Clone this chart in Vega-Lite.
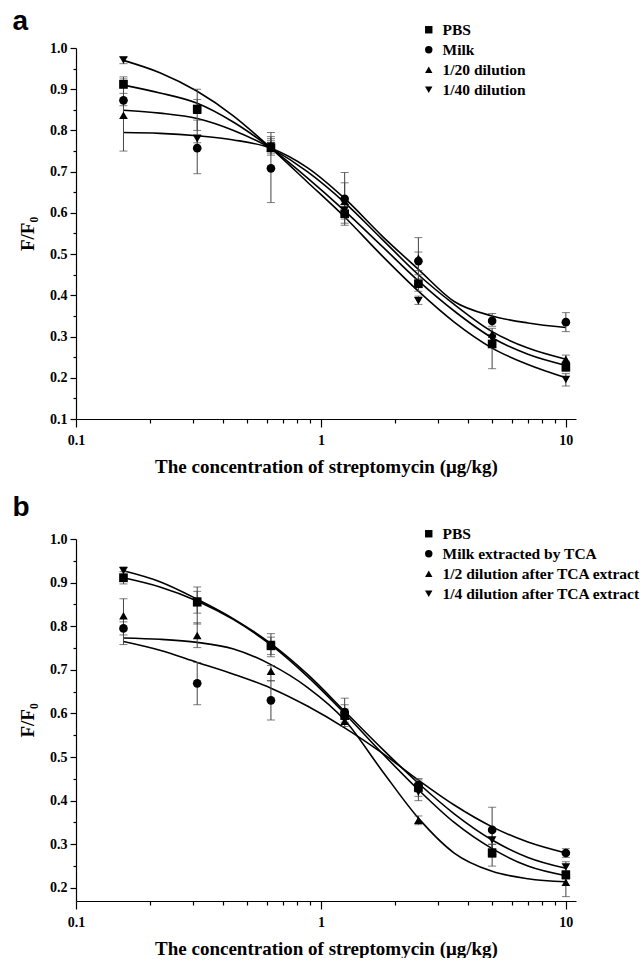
{
  "$schema": "https://vega.github.io/schema/vega-lite/v6.json",
  "padding": {"left": 12, "top": 8, "right": 2, "bottom": 0},
  "spacing": 18,
  "config": {
    "view": {"stroke": null},
    "font": "Liberation Serif",
    "axis": {"domainColor": "black", "tickColor": "black", "labelColor": "black", "titleColor": "black", "labelFont": "Liberation Serif", "labelFontWeight": "bold", "labelFontSize": 14, "titleFont": "Liberation Serif", "titleFontWeight": "bold", "titleFontSize": 19, "grid": false, "domainWidth": 1.2, "tickWidth": 1.2, "labelFlush": false, "labelOverlap": false},
    "legend": {"orient": "none", "title": null, "labelFont": "Liberation Serif", "labelFontWeight": "bold", "labelFontSize": 15.5, "labelColor": "black", "labelLimit": 400, "symbolFillColor": "black", "symbolStrokeColor": "black", "symbolSize": 55, "rowPadding": 3, "labelOffset": 6, "padding": 0}
  },
  "datasets": {
    "a_pts": [
      {"series": "PBS", "x": 0.15625, "y": 0.912, "lo": 0.902, "hi": 0.925},
      {"series": "PBS", "x": 0.3125, "y": 0.852, "lo": 0.843, "hi": 0.875},
      {"series": "PBS", "x": 0.625, "y": 0.758, "lo": 0.745, "hi": 0.775},
      {"series": "PBS", "x": 1.25, "y": 0.598, "lo": 0.575, "hi": 0.62},
      {"series": "PBS", "x": 2.5, "y": 0.428, "lo": 0.41, "hi": 0.45},
      {"series": "PBS", "x": 5, "y": 0.282, "lo": 0.222, "hi": 0.3},
      {"series": "PBS", "x": 10, "y": 0.226, "lo": 0.215, "hi": 0.24},
      {"series": "Milk", "x": 0.15625, "y": 0.873, "lo": 0.86, "hi": 0.89},
      {"series": "Milk", "x": 0.3125, "y": 0.757, "lo": 0.695, "hi": 0.825},
      {"series": "Milk", "x": 0.625, "y": 0.708, "lo": 0.625, "hi": 0.795},
      {"series": "Milk", "x": 1.25, "y": 0.634, "lo": 0.57, "hi": 0.698},
      {"series": "Milk", "x": 2.5, "y": 0.483, "lo": 0.46, "hi": 0.505},
      {"series": "Milk", "x": 5, "y": 0.338, "lo": 0.325, "hi": 0.356},
      {"series": "Milk", "x": 10, "y": 0.335, "lo": 0.312, "hi": 0.358},
      {"series": "1/20 dilution", "x": 0.15625, "y": 0.837, "lo": 0.75, "hi": 0.93},
      {"series": "1/20 dilution", "x": 0.3125, "y": 0.849, "lo": 0.8, "hi": 0.9},
      {"series": "1/20 dilution", "x": 0.625, "y": 0.757, "lo": 0.74, "hi": 0.785},
      {"series": "1/20 dilution", "x": 1.25, "y": 0.628, "lo": 0.585, "hi": 0.673},
      {"series": "1/20 dilution", "x": 2.5, "y": 0.49, "lo": 0.44, "hi": 0.54},
      {"series": "1/20 dilution", "x": 5, "y": 0.306, "lo": 0.29, "hi": 0.32},
      {"series": "1/20 dilution", "x": 10, "y": 0.245, "lo": 0.235, "hi": 0.255},
      {"series": "1/40 dilution", "x": 0.15625, "y": 0.971, "lo": 0.962, "hi": 0.978},
      {"series": "1/40 dilution", "x": 0.3125, "y": 0.78, "lo": 0.77, "hi": 0.79},
      {"series": "1/40 dilution", "x": 0.625, "y": 0.762, "lo": 0.75, "hi": 0.78},
      {"series": "1/40 dilution", "x": 1.25, "y": 0.607, "lo": 0.595, "hi": 0.62},
      {"series": "1/40 dilution", "x": 2.5, "y": 0.387, "lo": 0.378, "hi": 0.398},
      {"series": "1/40 dilution", "x": 5, "y": 0.295, "lo": 0.285, "hi": 0.305},
      {"series": "1/40 dilution", "x": 10, "y": 0.196, "lo": 0.18, "hi": 0.21}
    ],
    "a_curve": [
      {"series": "1/40 dilution", "x": 0.15625, "y": 0.97}, {"series": "1/40 dilution", "x": 0.22, "y": 0.94}, {"series": "1/40 dilution", "x": 0.3125, "y": 0.895}, {"series": "1/40 dilution", "x": 0.44, "y": 0.835}, {"series": "1/40 dilution", "x": 0.625, "y": 0.757}, {"series": "1/40 dilution", "x": 0.88, "y": 0.675}, {"series": "1/40 dilution", "x": 1.25, "y": 0.59}, {"series": "1/40 dilution", "x": 1.77, "y": 0.497}, {"series": "1/40 dilution", "x": 2.5, "y": 0.41}, {"series": "1/40 dilution", "x": 3.5, "y": 0.335}, {"series": "1/40 dilution", "x": 5, "y": 0.272}, {"series": "1/40 dilution", "x": 7, "y": 0.232}, {"series": "1/40 dilution", "x": 10, "y": 0.2},
      {"series": "PBS", "x": 0.15625, "y": 0.91}, {"series": "PBS", "x": 0.22, "y": 0.891}, {"series": "PBS", "x": 0.3125, "y": 0.866}, {"series": "PBS", "x": 0.44, "y": 0.82}, {"series": "PBS", "x": 0.625, "y": 0.757}, {"series": "PBS", "x": 0.88, "y": 0.685}, {"series": "PBS", "x": 1.25, "y": 0.605}, {"series": "PBS", "x": 1.77, "y": 0.52}, {"series": "PBS", "x": 2.5, "y": 0.435}, {"series": "PBS", "x": 3.5, "y": 0.362}, {"series": "PBS", "x": 5, "y": 0.297}, {"series": "PBS", "x": 7, "y": 0.257}, {"series": "PBS", "x": 10, "y": 0.23},
      {"series": "1/20 dilution", "x": 0.15625, "y": 0.849}, {"series": "1/20 dilution", "x": 0.22, "y": 0.842}, {"series": "1/20 dilution", "x": 0.3125, "y": 0.829}, {"series": "1/20 dilution", "x": 0.44, "y": 0.8}, {"series": "1/20 dilution", "x": 0.625, "y": 0.757}, {"series": "1/20 dilution", "x": 0.88, "y": 0.7}, {"series": "1/20 dilution", "x": 1.25, "y": 0.625}, {"series": "1/20 dilution", "x": 1.77, "y": 0.537}, {"series": "1/20 dilution", "x": 2.5, "y": 0.45}, {"series": "1/20 dilution", "x": 3.5, "y": 0.378}, {"series": "1/20 dilution", "x": 5, "y": 0.312}, {"series": "1/20 dilution", "x": 7, "y": 0.272}, {"series": "1/20 dilution", "x": 10, "y": 0.245},
      {"series": "Milk", "x": 0.15625, "y": 0.795}, {"series": "Milk", "x": 0.22, "y": 0.793}, {"series": "Milk", "x": 0.3125, "y": 0.787}, {"series": "Milk", "x": 0.44, "y": 0.777}, {"series": "Milk", "x": 0.625, "y": 0.757}, {"series": "Milk", "x": 0.88, "y": 0.71}, {"series": "Milk", "x": 1.25, "y": 0.635}, {"series": "Milk", "x": 1.77, "y": 0.545}, {"series": "Milk", "x": 2.5, "y": 0.463}, {"series": "Milk", "x": 3.5, "y": 0.385}, {"series": "Milk", "x": 5, "y": 0.35}, {"series": "Milk", "x": 7, "y": 0.333}, {"series": "Milk", "x": 10, "y": 0.322}
    ],
    "b_pts": [
      {"series": "PBS", "x": 0.15625, "y": 0.911, "lo": 0.897, "hi": 0.925},
      {"series": "PBS", "x": 0.3125, "y": 0.855, "lo": 0.83, "hi": 0.88},
      {"series": "PBS", "x": 0.625, "y": 0.755, "lo": 0.735, "hi": 0.775},
      {"series": "PBS", "x": 1.25, "y": 0.595, "lo": 0.58, "hi": 0.61},
      {"series": "PBS", "x": 2.5, "y": 0.43, "lo": 0.41, "hi": 0.45},
      {"series": "PBS", "x": 5, "y": 0.28, "lo": 0.25, "hi": 0.3},
      {"series": "PBS", "x": 10, "y": 0.23, "lo": 0.22, "hi": 0.24},
      {"series": "Milk extracted by TCA", "x": 0.15625, "y": 0.795, "lo": 0.78, "hi": 0.81},
      {"series": "Milk extracted by TCA", "x": 0.3125, "y": 0.669, "lo": 0.62, "hi": 0.717},
      {"series": "Milk extracted by TCA", "x": 0.625, "y": 0.63, "lo": 0.585, "hi": 0.675},
      {"series": "Milk extracted by TCA", "x": 1.25, "y": 0.603, "lo": 0.59, "hi": 0.62},
      {"series": "Milk extracted by TCA", "x": 2.5, "y": 0.435, "lo": 0.42, "hi": 0.45},
      {"series": "Milk extracted by TCA", "x": 5, "y": 0.333, "lo": 0.29, "hi": 0.385},
      {"series": "Milk extracted by TCA", "x": 10, "y": 0.28, "lo": 0.27, "hi": 0.29},
      {"series": "1/2 dilution after TCA extract", "x": 0.15625, "y": 0.824, "lo": 0.758, "hi": 0.863},
      {"series": "1/2 dilution after TCA extract", "x": 0.3125, "y": 0.779, "lo": 0.751, "hi": 0.808},
      {"series": "1/2 dilution after TCA extract", "x": 0.625, "y": 0.697, "lo": 0.675, "hi": 0.71},
      {"series": "1/2 dilution after TCA extract", "x": 1.25, "y": 0.582, "lo": 0.57, "hi": 0.595},
      {"series": "1/2 dilution after TCA extract", "x": 2.5, "y": 0.355, "lo": 0.345, "hi": 0.365},
      {"series": "1/2 dilution after TCA extract", "x": 5, "y": 0.285, "lo": 0.27, "hi": 0.3},
      {"series": "1/2 dilution after TCA extract", "x": 10, "y": 0.213, "lo": 0.18, "hi": 0.235},
      {"series": "1/4 dilution after TCA extract", "x": 0.15625, "y": 0.927, "lo": 0.92, "hi": 0.936},
      {"series": "1/4 dilution after TCA extract", "x": 0.3125, "y": 0.858, "lo": 0.805, "hi": 0.89},
      {"series": "1/4 dilution after TCA extract", "x": 0.625, "y": 0.758, "lo": 0.73, "hi": 0.783},
      {"series": "1/4 dilution after TCA extract", "x": 1.25, "y": 0.585, "lo": 0.575, "hi": 0.635},
      {"series": "1/4 dilution after TCA extract", "x": 2.5, "y": 0.42, "lo": 0.4, "hi": 0.445},
      {"series": "1/4 dilution after TCA extract", "x": 5, "y": 0.31, "lo": 0.29, "hi": 0.33},
      {"series": "1/4 dilution after TCA extract", "x": 10, "y": 0.248, "lo": 0.235, "hi": 0.26}
    ],
    "b_curve": [
      {"series": "1/4 dilution after TCA extract", "x": 0.15625, "y": 0.927}, {"series": "1/4 dilution after TCA extract", "x": 0.22, "y": 0.902}, {"series": "1/4 dilution after TCA extract", "x": 0.3125, "y": 0.862}, {"series": "1/4 dilution after TCA extract", "x": 0.44, "y": 0.817}, {"series": "1/4 dilution after TCA extract", "x": 0.625, "y": 0.76}, {"series": "1/4 dilution after TCA extract", "x": 0.88, "y": 0.69}, {"series": "1/4 dilution after TCA extract", "x": 1.25, "y": 0.605}, {"series": "1/4 dilution after TCA extract", "x": 1.77, "y": 0.52}, {"series": "1/4 dilution after TCA extract", "x": 2.5, "y": 0.44}, {"series": "1/4 dilution after TCA extract", "x": 3.5, "y": 0.37}, {"series": "1/4 dilution after TCA extract", "x": 5, "y": 0.31}, {"series": "1/4 dilution after TCA extract", "x": 7, "y": 0.27}, {"series": "1/4 dilution after TCA extract", "x": 10, "y": 0.245},
      {"series": "PBS", "x": 0.15625, "y": 0.911}, {"series": "PBS", "x": 0.22, "y": 0.89}, {"series": "PBS", "x": 0.3125, "y": 0.858}, {"series": "PBS", "x": 0.44, "y": 0.815}, {"series": "PBS", "x": 0.625, "y": 0.757}, {"series": "PBS", "x": 0.88, "y": 0.685}, {"series": "PBS", "x": 1.25, "y": 0.6}, {"series": "PBS", "x": 1.77, "y": 0.51}, {"series": "PBS", "x": 2.5, "y": 0.425}, {"series": "PBS", "x": 3.5, "y": 0.35}, {"series": "PBS", "x": 5, "y": 0.29}, {"series": "PBS", "x": 7, "y": 0.25}, {"series": "PBS", "x": 10, "y": 0.228},
      {"series": "1/2 dilution after TCA extract", "x": 0.15625, "y": 0.773}, {"series": "1/2 dilution after TCA extract", "x": 0.22, "y": 0.77}, {"series": "1/2 dilution after TCA extract", "x": 0.3125, "y": 0.763}, {"series": "1/2 dilution after TCA extract", "x": 0.44, "y": 0.748}, {"series": "1/2 dilution after TCA extract", "x": 0.625, "y": 0.712}, {"series": "1/2 dilution after TCA extract", "x": 0.88, "y": 0.66}, {"series": "1/2 dilution after TCA extract", "x": 1.25, "y": 0.585}, {"series": "1/2 dilution after TCA extract", "x": 1.77, "y": 0.47}, {"series": "1/2 dilution after TCA extract", "x": 2.5, "y": 0.36}, {"series": "1/2 dilution after TCA extract", "x": 3.5, "y": 0.28}, {"series": "1/2 dilution after TCA extract", "x": 5, "y": 0.238}, {"series": "1/2 dilution after TCA extract", "x": 7, "y": 0.221}, {"series": "1/2 dilution after TCA extract", "x": 10, "y": 0.214},
      {"series": "Milk extracted by TCA", "x": 0.15625, "y": 0.765}, {"series": "Milk extracted by TCA", "x": 0.22, "y": 0.745}, {"series": "Milk extracted by TCA", "x": 0.3125, "y": 0.717}, {"series": "Milk extracted by TCA", "x": 0.44, "y": 0.69}, {"series": "Milk extracted by TCA", "x": 0.625, "y": 0.658}, {"series": "Milk extracted by TCA", "x": 0.88, "y": 0.617}, {"series": "Milk extracted by TCA", "x": 1.25, "y": 0.567}, {"series": "Milk extracted by TCA", "x": 1.77, "y": 0.51}, {"series": "Milk extracted by TCA", "x": 2.5, "y": 0.447}, {"series": "Milk extracted by TCA", "x": 3.5, "y": 0.39}, {"series": "Milk extracted by TCA", "x": 5, "y": 0.34}, {"series": "Milk extracted by TCA", "x": 7, "y": 0.305}, {"series": "Milk extracted by TCA", "x": 10, "y": 0.28}
    ]
  },
  "vconcat": [
    {
      "width": 500,
      "height": 371,
      "title": {"text": "a", "anchor": "start", "frame": "bounds", "font": "Liberation Sans", "fontSize": 28, "fontWeight": "bold", "color": "black", "offset": -14, "dx": -6},
      "layer": [
        {
          "data": {"name": "a_curve"},
          "mark": {"type": "line", "color": "black", "strokeWidth": 1.6, "interpolate": "monotone"},
          "encoding": {
            "x": {"field": "x", "type": "quantitative", "scale": {"type": "log", "domain": [0.1, 11], "nice": false},
                  "axis": {"orient": "bottom", "values": [0.1, 1, 10], "format": "~g", "tickSize": 8, "labelPadding": 6, "title": "The concentration of streptomycin (μg/kg)", "titlePadding": 10}},
            "y": {"field": "y", "type": "quantitative", "scale": {"domain": [0.1, 1.0], "nice": false, "zero": false},
                  "axis": {"orient": "left", "values": [0.1, 0.2, 0.3, 0.4, 0.5, 0.6, 0.7, 0.8, 0.9, 1.0], "format": ".1f", "tickSize": 6, "labelPadding": 3, "title": "F/F₀", "titlePadding": 12}},
            "detail": {"field": "series"}
          }
        },
        {
          "data": {"name": "a_pts"},
          "mark": {"type": "errorbar", "color": "#444444", "thickness": 1, "ticks": {"size": 8, "color": "#444444"}},
          "encoding": {
            "x": {"field": "x", "type": "quantitative",
                  "axis": {"orient": "bottom", "values": [0.2, 0.3, 0.4, 0.5, 0.6, 0.7, 0.8, 0.9, 2, 3, 4, 5, 6, 7, 8, 9], "tickSize": 4, "labels": false, "domain": false, "title": null}},
            "y": {"field": "lo", "type": "quantitative",
                  "axis": {"orient": "left", "values": [0.15, 0.25, 0.35, 0.45, 0.55, 0.65, 0.75, 0.85, 0.95], "tickSize": 3, "labels": false, "domain": false, "title": null}},
            "y2": {"field": "hi"},
            "detail": {"field": "series"}
          }
        },
        {
          "data": {"name": "a_pts"},
          "mark": {"type": "point", "filled": true, "color": "black", "size": 75, "opacity": 1},
          "encoding": {
            "x": {"field": "x", "type": "quantitative", "axis": null},
            "y": {"field": "y", "type": "quantitative", "axis": null},
            "shape": {"field": "series", "type": "nominal",
                      "scale": {"domain": ["PBS", "Milk", "1/20 dilution", "1/40 dilution"], "range": ["square", "circle", "triangle-up", "triangle-down"]},
                      "legend": {"legendX": 345, "legendY": -26}}
          }
        }
      ],
      "resolve": {"axis": {"x": "independent", "y": "independent"}}
    },
    {
      "width": 500,
      "height": 362,
      "title": {"text": "b", "anchor": "start", "frame": "bounds", "font": "Liberation Sans", "fontSize": 28, "fontWeight": "bold", "color": "black", "offset": 4, "dx": -6},
      "layer": [
        {
          "data": {"name": "b_curve"},
          "mark": {"type": "line", "color": "black", "strokeWidth": 1.6, "interpolate": "monotone"},
          "encoding": {
            "x": {"field": "x", "type": "quantitative", "scale": {"type": "log", "domain": [0.1, 11], "nice": false},
                  "axis": {"orient": "bottom", "values": [0.1, 1, 10], "format": "~g", "tickSize": 8, "labelPadding": 6, "title": "The concentration of streptomycin (μg/kg)", "titlePadding": 10}},
            "y": {"field": "y", "type": "quantitative", "scale": {"domain": [0.17, 1.0], "nice": false, "zero": false},
                  "axis": {"orient": "left", "values": [0.2, 0.3, 0.4, 0.5, 0.6, 0.7, 0.8, 0.9, 1.0], "format": ".1f", "tickSize": 6, "labelPadding": 3, "title": "F/F₀", "titlePadding": 12}},
            "detail": {"field": "series"}
          }
        },
        {
          "data": {"name": "b_pts"},
          "mark": {"type": "errorbar", "color": "#444444", "thickness": 1, "ticks": {"size": 8, "color": "#444444"}},
          "encoding": {
            "x": {"field": "x", "type": "quantitative",
                  "axis": {"orient": "bottom", "values": [0.2, 0.3, 0.4, 0.5, 0.6, 0.7, 0.8, 0.9, 2, 3, 4, 5, 6, 7, 8, 9], "tickSize": 4, "labels": false, "domain": false, "title": null}},
            "y": {"field": "lo", "type": "quantitative",
                  "axis": {"orient": "left", "values": [0.25, 0.35, 0.45, 0.55, 0.65, 0.75, 0.85, 0.95], "tickSize": 3, "labels": false, "domain": false, "title": null}},
            "y2": {"field": "hi"},
            "detail": {"field": "series"}
          }
        },
        {
          "data": {"name": "b_pts"},
          "mark": {"type": "point", "filled": true, "color": "black", "size": 75, "opacity": 1},
          "encoding": {
            "x": {"field": "x", "type": "quantitative", "axis": null},
            "y": {"field": "y", "type": "quantitative", "axis": null},
            "shape": {"field": "series", "type": "nominal",
                      "scale": {"domain": ["PBS", "Milk extracted by TCA", "1/2 dilution after TCA extract", "1/4 dilution after TCA extract"], "range": ["square", "circle", "triangle-up", "triangle-down"]},
                      "legend": {"legendX": 345, "legendY": -13}}
          }
        }
      ],
      "resolve": {"axis": {"x": "independent", "y": "independent"}}
    }
  ],
  "resolve": {"scale": {"shape": "independent"}, "legend": {"shape": "independent"}}
}
